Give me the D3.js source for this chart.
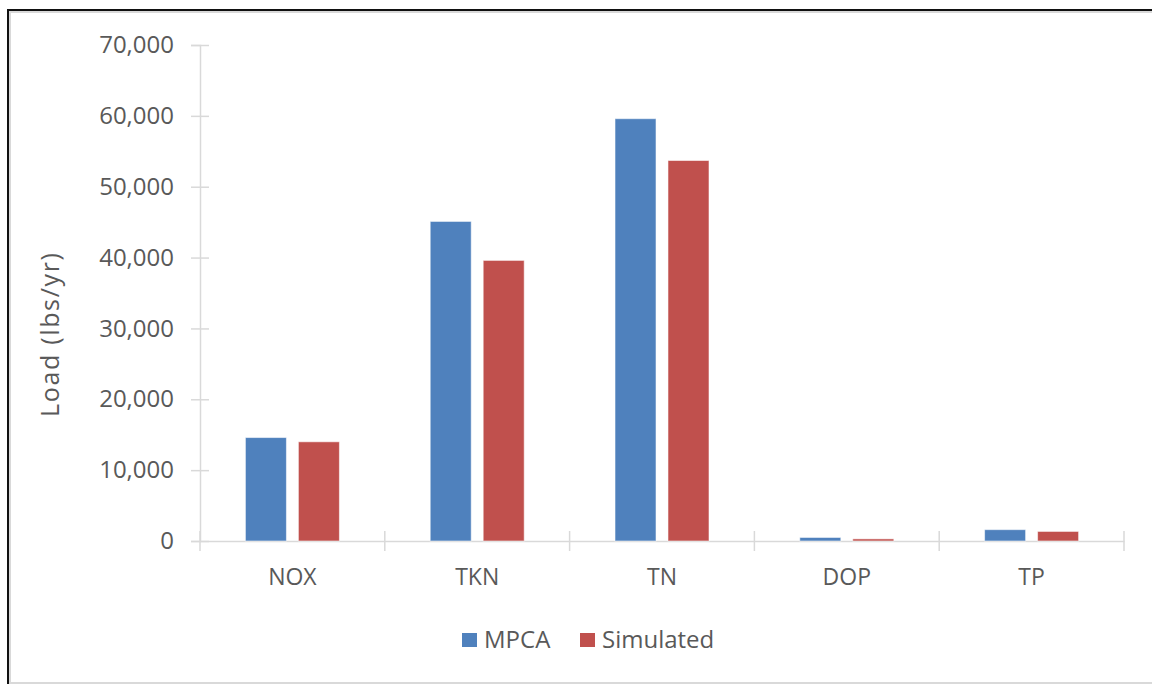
<!DOCTYPE html>
<html>
<head>
<meta charset="utf-8">
<script src="https://cdn.jsdelivr.net/npm/d3@7"></script>
<style>
  html, body { margin: 0; padding: 0; background: #fff; }
  svg { display: block; }
  text { font-family: "Open Sans", "Segoe UI", sans-serif; }
</style>
</head>
<body>
<svg id="chart" width="1152" height="684"></svg>
<script>
const categories = ["NOX", "TKN", "TN", "DOP", "TP"];
const seriesNames = ["MPCA", "Simulated"];
const mpca = [14600, 45100, 59600, 500, 1600];
const simulated = [14000, 39600, 53700, 300, 1350];
const yTicks = [0, 10000, 20000, 30000, 40000, 50000, 60000, 70000];
const colors = ["#4F81BD", "#C0504D"];
const yTitle = "Load (lbs/yr)";

const svg = d3.select("#chart");

// frame
svg.append("rect").attr("x", 10).attr("y", 12).attr("width", 1160).attr("height", 671)
  .attr("fill", "#fff").attr("stroke", "#d9d9d9").attr("stroke-width", 2);
svg.append("rect").attr("x", 8).attr("y", 10).attr("width", 1170).attr("height", 700)
  .attr("fill", "none").attr("stroke", "#111").attr("stroke-width", 2);

const plot = { left: 200, right: 1124, top: 45, bottom: 541 };

const x = d3.scaleBand().domain(categories).range([plot.left, plot.right]).padding(0);
const xInner = d3.scaleBand().domain(seriesNames).range([0, x.bandwidth()])
  .paddingInner(0.226).paddingOuter(0.857);
const y = d3.scaleLinear().domain([0, 70000]).range([plot.bottom, plot.top]);

const axisColor = "#d9d9d9";
const textColor = "#595959";

// y axis
const yAxis = svg.append("g").attr("transform", `translate(${plot.left},0)`)
  .call(d3.axisLeft(y).tickValues(yTicks).tickFormat(d3.format(",")).tickSize(9).tickPadding(17));
yAxis.select(".domain").attr("stroke", axisColor).attr("stroke-width", 1.5);
yAxis.selectAll(".tick line").attr("stroke", axisColor).attr("stroke-width", 1.5).attr("x2", 9).attr("x1", -9);
yAxis.selectAll(".tick text").attr("fill", textColor).attr("font-size", 24)
  .attr("font-family", "'Open Sans', sans-serif");

// x axis
const xAxis = svg.append("g").attr("transform", `translate(0,${plot.bottom})`)
  .call(d3.axisBottom(x).tickSize(0).tickPadding(28));
xAxis.select(".domain").attr("stroke", axisColor).attr("stroke-width", 1.5);
xAxis.selectAll(".tick text").attr("fill", textColor).attr("font-size", 23)
  .attr("font-family", "'Open Sans', sans-serif");
// category boundary ticks (crossing)
const boundaries = categories.map(c => x(c)).concat([x(categories[categories.length - 1]) + x.bandwidth()]);
xAxis.selectAll(".bound").data(boundaries).join("line").attr("class", "bound")
  .attr("x1", d => d).attr("x2", d => d).attr("y1", -10).attr("y2", 10)
  .attr("stroke", axisColor).attr("stroke-width", 1.5);

// bars
const series = [mpca, simulated];
series.forEach((vals, si) => {
  svg.append("g").selectAll("rect").data(vals).join("rect")
    .attr("x", (d, i) => x(categories[i]) + xInner(seriesNames[si]))
    .attr("width", xInner.bandwidth())
    .attr("y", d => y(d))
    .attr("height", d => y(0) - y(d))
    .attr("fill", colors[si])
    .attr("stroke", "rgba(255,255,255,0.55)")
    .attr("stroke-width", 1);
});

// y title
svg.append("text")
  .attr("transform", `translate(59,335) rotate(-90)`)
  .attr("text-anchor", "middle")
  .attr("fill", textColor).attr("font-size", 25)
  .attr("textLength", 164)
  .text(yTitle);

// legend
const legendItems = [
  { name: seriesNames[0], color: colors[0], x: 462 },
  { name: seriesNames[1], color: colors[1], x: 580 }
];
const lg = svg.append("g");
legendItems.forEach(it => {
  lg.append("rect").attr("x", it.x).attr("y", 633).attr("width", 15).attr("height", 14).attr("fill", it.color);
  lg.append("text").attr("x", it.x + 22).attr("y", 648).attr("fill", textColor)
    .attr("font-size", 24).text(it.name);
});
</script>
</body>
</html>
